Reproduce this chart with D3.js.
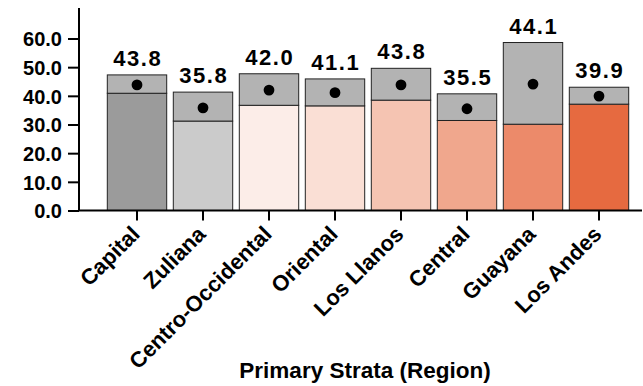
<!DOCTYPE html>
<html><head><meta charset="utf-8">
<script src="https://cdn.jsdelivr.net/npm/d3@7"></script>
<style>body{margin:0;background:#fff}svg{display:block}text{font-family:"Liberation Sans",Arial,sans-serif;font-weight:bold;fill:#000}</style>
</head><body><svg id="c" width="643" height="386"></svg>
<script>
const regions = ["Capital","Zuliana","Centro-Occidental","Oriental","Los Llanos","Central","Guayana","Los Andes"];
const means = [43.8,35.8,42.0,41.1,43.8,35.5,44.1,39.9];
const lower = [40.9,31.2,36.7,36.5,38.5,31.4,30.1,37.1];
const upper = [47.3,41.3,47.7,45.9,49.6,40.7,58.6,43.0];
const colors = ["#9b9b9b","#cbcbcb","#fcede8","#fadfd5","#f5c4b2","#f0a78d","#ec8a6a","#e66a40"];
const yTicks = [0,10,20,30,40,50,60];

const svg = d3.select("#c");
const x = d3.scaleBand().domain(regions).range([104,632]).paddingInner(0.1).paddingOuter(0.05);
const y = d3.scaleLinear().domain([0,60]).range([210.5,38.5]);

const data = regions.map((r,i)=>({r,m:means[i],lo:lower[i],hi:upper[i],c:colors[i]}));

svg.selectAll("rect.b").data(data).join("rect")
  .attr("x",d=>x(d.r)).attr("width",x.bandwidth())
  .attr("y",d=>y(d.lo)).attr("height",d=>y(0)-y(d.lo))
  .attr("fill",d=>d.c).attr("stroke","#222").attr("stroke-width",1);
svg.selectAll("rect.ci").data(data).join("rect")
  .attr("x",d=>x(d.r)).attr("width",x.bandwidth())
  .attr("y",d=>y(d.hi)).attr("height",d=>y(d.lo)-y(d.hi))
  .attr("fill","#b3b3b3").attr("stroke","#222").attr("stroke-width",1);
svg.selectAll("circle").data(data).join("circle")
  .attr("cx",d=>x(d.r)+x.bandwidth()/2).attr("cy",d=>y(d.m)).attr("r",5.4).attr("fill","#000");
svg.selectAll("text.v").data(data).join("text")
  .attr("x",d=>x(d.r)+x.bandwidth()/2+0.75).attr("y",d=>y(d.hi)-9)
  .attr("text-anchor","middle").style("font-size","22px").style("letter-spacing","1.5px")
  .text(d=>d.m.toFixed(1));

const ya = svg.append("g").attr("transform","translate(79,0)")
  .call(d3.axisLeft(y).tickValues(yTicks).tickFormat(d=>d.toFixed(1)).tickSize(11).tickSizeOuter(0));
ya.select(".domain").attr("d","M0,8V"+y(0)).attr("stroke","#000").attr("stroke-width",2);
ya.selectAll(".tick line").attr("stroke","#000").attr("stroke-width",2);
ya.selectAll(".tick text").style("font-size","20px").attr("x",-17).attr("dy","0.36em");

const xa = svg.append("g").attr("transform",`translate(0,${y(0)})`)
  .call(d3.axisBottom(x).tickSize(10).tickSizeOuter(0));
xa.select(".domain").attr("d","M79,0H642").attr("stroke","#000").attr("stroke-width",2);
xa.selectAll(".tick line").attr("stroke","#000").attr("stroke-width",2);
xa.selectAll(".tick text").style("font-size","22px")
  .attr("text-anchor","end").attr("dy","0").attr("y",0)
  .attr("transform","translate(4,25) rotate(-45)");

svg.append("text").attr("x",365).attr("y",378).attr("text-anchor","middle")
  .style("font-size","22.5px").text("Primary Strata (Region)");
</script></body></html>
